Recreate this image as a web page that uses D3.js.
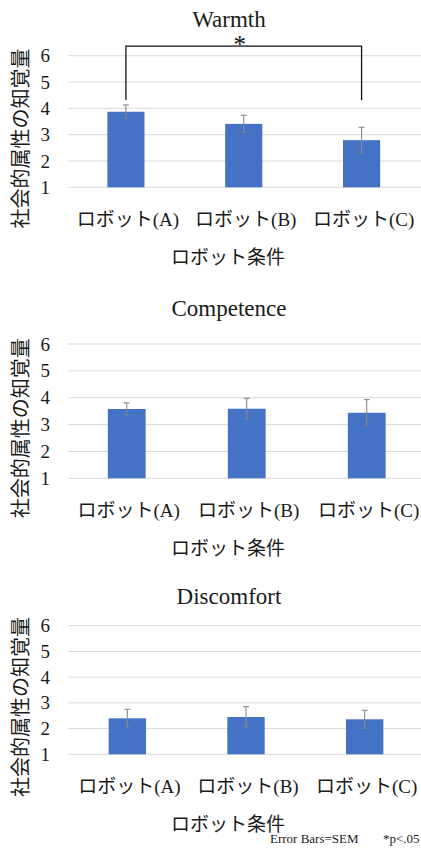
<!DOCTYPE html>
<html>
<head>
<meta charset="utf-8">
<script src="https://cdn.jsdelivr.net/npm/d3@7"></script>
<style>
  html, body { margin: 0; padding: 0; background: #fff; }
  svg { display: block; }
</style>
</head>
<body>
<svg id="chart" width="421" height="857"></svg>
<script>
// ---- data ----
const categories = ["ロボット(A)", "ロボット(B)", "ロボット(C)"];
const panelTitles = ["Warmth", "Competence", "Discomfort"];
const warmthMeans = [3.87, 3.41, 2.79];
const warmthSem = [0.26, 0.33, 0.49];
const competenceMeans = [3.58, 3.59, 3.44];
const competenceSem = [0.23, 0.39, 0.49];
const discomfortMeans = [2.40, 2.45, 2.36];
const discomfortSem = [0.35, 0.40, 0.35];
const yTicks = [1, 2, 3, 4, 5, 6];
const yLabel = "社会的属性の知覚量";
const xLabel = "ロボット条件";
const footnoteSem = "Error Bars=SEM";
const footnoteSig = "*p<.05";
// significant pair in the Warmth panel: (A) vs (C)
const sigPair = [0, 2];
const sigMark = "*";

// ---- layout (one entry per panel) ----
const layout = [
  { yTop: 55.7, yBottom: 187.3, xLeft: 67, xRight: 420.5, titleY: 27 },
  { yTop: 344, yBottom: 478.3, xLeft: 66.7, xRight: 426.7, titleY: 316 },
  { yTop: 625.7, yBottom: 754.3, xLeft: 68, xRight: 424, titleY: 604 }
];
const seriesMeans = [warmthMeans, competenceMeans, discomfortMeans];
const seriesSem = [warmthSem, competenceSem, discomfortSem];

const serif = "'Liberation Serif', 'Times New Roman', 'Noto Sans CJK JP', serif";
const gothic = "'Noto Sans CJK JP', sans-serif";
const barColor = "#4472c4";
const gridColor = "#d9d9d9";
const errColor = "#8a8a8a";
const textColor = "#1a1a1a";

const svg = d3.select("#chart");

layout.forEach((L, p) => {
  const g = svg.append("g");
  const means = seriesMeans[p];
  const sem = seriesSem[p];

  const y = d3.scaleLinear().domain([1, 6]).range([L.yBottom, L.yTop]);
  const x = d3.scaleBand().domain(categories)
    .range([L.xLeft, L.xRight]).paddingInner(0.685).paddingOuter(0.3425);

  // gridlines
  g.append("g").selectAll("line").data(yTicks).join("line")
    .attr("x1", 68).attr("x2", 421)
    .attr("y1", d => y(d)).attr("y2", d => y(d))
    .attr("stroke", gridColor).attr("stroke-width", 1);

  // y axis tick labels
  const yAxis = d3.axisLeft(y).tickValues(yTicks).tickSize(0).tickPadding(0)
    .tickFormat(d3.format("d"));
  const ya = g.append("g").attr("transform", "translate(50,0)").call(yAxis);
  ya.select(".domain").remove();
  ya.selectAll("text").attr("font-family", serif).attr("font-size", 19)
    .attr("fill", textColor);

  // bars
  g.append("g").selectAll("rect").data(means).join("rect")
    .attr("x", (d, i) => x(categories[i]))
    .attr("width", x.bandwidth())
    .attr("y", d => y(d))
    .attr("height", d => y(1) - y(d))
    .attr("fill", barColor);

  // error bars (± SEM)
  const eb = g.append("g").selectAll("g").data(means).join("g")
    .attr("transform", (d, i) => `translate(${x(categories[i]) + x.bandwidth() / 2},0)`);
  eb.append("line")
    .attr("y1", (d, i) => y(d - sem[i])).attr("y2", (d, i) => y(d + sem[i]))
    .attr("stroke", errColor).attr("stroke-width", 1.1);
  eb.append("line")
    .attr("x1", -3).attr("x2", 3)
    .attr("y1", (d, i) => y(d + sem[i])).attr("y2", (d, i) => y(d + sem[i]))
    .attr("stroke", errColor).attr("stroke-width", 1.1);
  eb.append("line")
    .attr("x1", -3).attr("x2", 3)
    .attr("y1", (d, i) => y(d - sem[i])).attr("y2", (d, i) => y(d - sem[i]))
    .attr("stroke", errColor).attr("stroke-width", 1.1).attr("opacity", 0.6);

  // category labels
  const xAxis = d3.axisBottom(x).tickSize(0).tickPadding(0);
  const xa = g.append("g").attr("transform", `translate(2,${y(1) + 39})`).call(xAxis);
  xa.select(".domain").remove();
  xa.selectAll("text").attr("font-family", serif).attr("font-size", 19)
    .attr("fill", textColor).attr("dy", 0);

  // panel title
  g.append("text").attr("x", 229).attr("y", L.titleY)
    .attr("text-anchor", "middle").attr("font-family", serif)
    .attr("font-size", 23).attr("fill", textColor).text(panelTitles[p]);

  // x axis title
  g.append("text").attr("x", 228).attr("y", y(1) + 77)
    .attr("text-anchor", "middle").attr("font-family", gothic)
    .attr("font-size", 19).attr("fill", textColor).text(xLabel);

  // y axis title
  const yMid = (y(1) + y(6)) / 2 + 17;
  g.append("text")
    .attr("transform", `translate(28,${yMid}) rotate(-90)`)
    .attr("text-anchor", "middle").attr("font-family", gothic)
    .attr("font-size", 20).attr("fill", textColor).text(yLabel);

  // significance bracket
  if (p === 0) {
    const [a, b] = sigPair;
    const xa0 = x(categories[a]) + x.bandwidth() / 2;
    const xb0 = x(categories[b]) + x.bandwidth() / 2;
    const top = y(6) - 9.5;
    const path = d3.path();
    path.moveTo(xa0, y(means[a] + sem[a]) - 5);
    path.lineTo(xa0, top);
    path.lineTo(xb0, top);
    path.lineTo(xb0, y(means[b] + sem[b]) - 27);
    g.append("path").attr("d", path.toString())
      .attr("fill", "none").attr("stroke", "#111").attr("stroke-width", 1.3);
    g.append("text").attr("x", (xa0 + xb0) / 2 - 4).attr("y", top + 7)
      .attr("text-anchor", "middle")
      .attr("font-family", serif).attr("font-size", 25).attr("fill", "#111")
      .text(sigMark);
  }
});

// footnote
const foot = svg.append("text").attr("y", 843)
  .attr("font-family", serif).attr("font-size", 13).attr("fill", textColor);
foot.append("tspan").attr("x", 270).text(footnoteSem);
foot.append("tspan").attr("x", 383).text(footnoteSig);
</script>
</body>
</html>
